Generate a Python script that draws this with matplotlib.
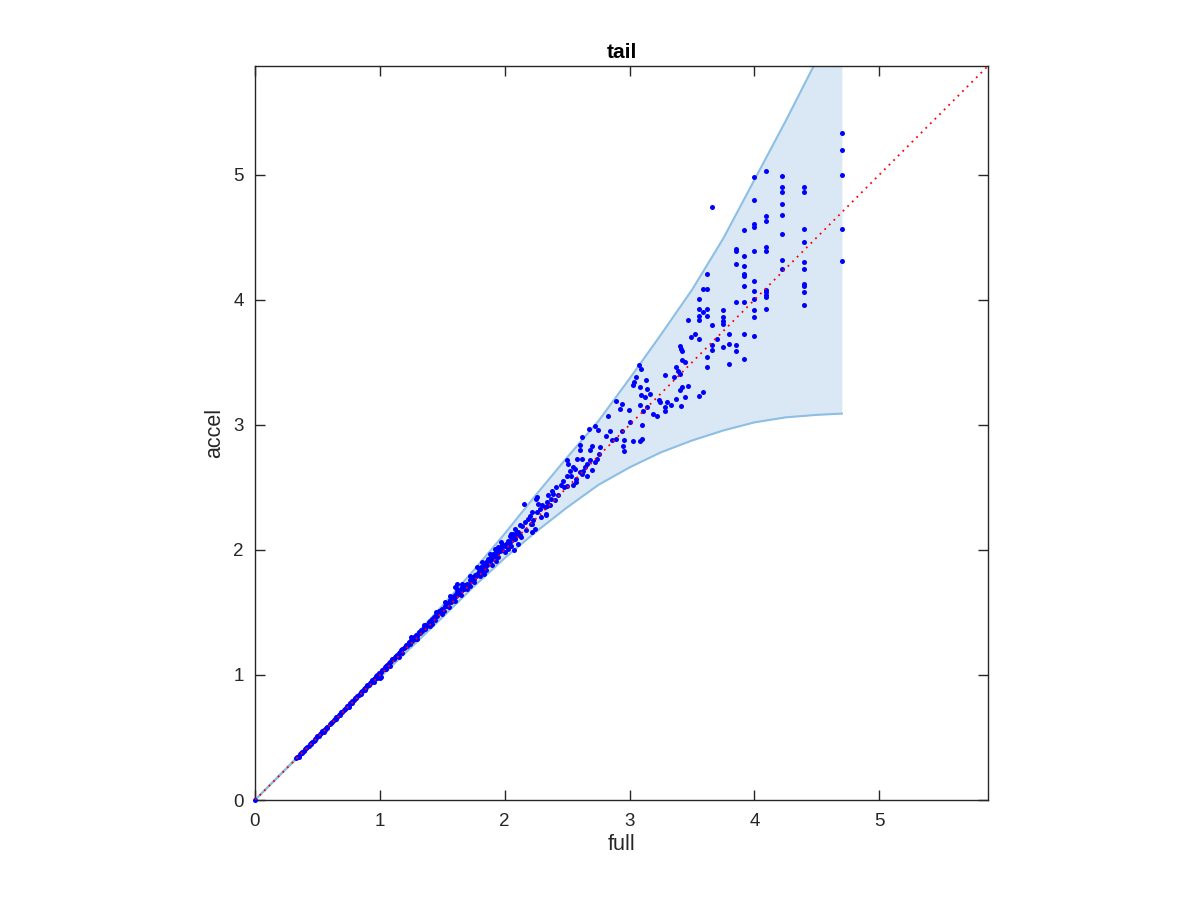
import matplotlib
matplotlib.use("Agg")
import matplotlib.pyplot as plt
import numpy as np

plt.rcParams['font.family'] = ['Liberation Sans', 'DejaVu Sans']

# ---- band boundaries ----
band_x = [0, 0.25, 0.5, 0.75, 1.0, 1.25, 1.5, 1.75, 2.0, 2.25, 2.5, 2.75, 3.0,
          3.25, 3.5, 3.75, 4.0, 4.25, 4.5, 4.7]
band_upper = [0, 0.253, 0.508, 0.765, 1.022, 1.283, 1.552, 1.835, 2.13, 2.44,
              2.74, 3.03, 3.37, 3.72, 4.08, 4.49, 4.96, 5.43, 5.92, 6.3]
band_lower = [0, 0.248, 0.495, 0.738, 0.98, 1.22, 1.46, 1.705, 1.935, 2.145,
              2.34, 2.52, 2.66, 2.78, 2.875, 2.955, 3.02, 3.06, 3.08, 3.09]

# ---- scatter points: dense near-diagonal part ----
dense_x = [0.0, 0.33, 0.34, 0.35, 0.36, 0.37, 0.38, 0.39, 0.40, 0.41, 0.42, 0.43, 0.44, 0.45,
           0.46, 0.47, 0.48, 0.49, 0.50, 0.51, 0.52, 0.53, 0.54, 0.55, 0.56, 0.57, 0.58,
           0.60, 0.61, 0.62, 0.63, 0.64, 0.65, 0.66, 0.67, 0.68, 0.69, 0.70, 0.71, 0.72,
           0.73, 0.74, 0.75, 0.76, 0.77, 0.78, 0.79, 0.80, 0.81, 0.82, 0.83, 0.84, 0.85,
           0.86, 0.87, 0.88, 0.89, 0.90, 0.91, 0.92, 0.93, 0.94, 0.95, 0.96, 0.97, 0.98,
           0.99, 1.00, 1.01, 1.02, 1.03, 1.04, 1.05, 1.06, 1.07, 1.08, 1.09, 1.10, 1.11,
           1.12, 1.13, 1.14, 1.15, 1.16, 1.17, 1.18, 1.19,
           0.35, 0.45, 0.55, 0.65, 0.75, 0.85, 0.95, 1.05, 1.15, 0.38, 0.48, 0.58, 0.68,
           0.78, 0.88, 0.98, 1.08, 1.18, 1.00, 1.01]
dense_y = [0.0, 0.335, 0.345, 0.352, 0.368, 0.372, 0.385, 0.392, 0.408, 0.412, 0.426, 0.431,
           0.447, 0.452, 0.465, 0.474, 0.487, 0.492, 0.508, 0.514, 0.526, 0.533, 0.548,
           0.556, 0.562, 0.578, 0.585, 0.607, 0.618, 0.625, 0.640, 0.645, 0.661, 0.665,
           0.682, 0.688, 0.702, 0.706, 0.722, 0.728, 0.737, 0.752, 0.757, 0.772, 0.776,
           0.795, 0.797, 0.815, 0.818, 0.833, 0.842, 0.848, 0.866, 0.868, 0.886, 0.892,
           0.902, 0.918, 0.921, 0.938, 0.944, 0.956, 0.968, 0.972, 0.991, 0.996, 1.012,
           1.018, 1.024, 1.043, 1.048, 1.062, 1.071, 1.078, 1.094, 1.103, 1.108, 1.128,
           1.131, 1.146, 1.152, 1.161, 1.178, 1.184, 1.196, 1.207, 1.215,
           0.345, 0.445, 0.547, 0.648, 0.746, 0.846, 0.945, 1.046, 1.144, 0.376, 0.478,
           0.576, 0.677, 0.776, 0.876, 0.978, 1.075, 1.172, 0.972, 0.98]

mid_x = [1.20, 1.21, 1.22, 1.23, 1.24, 1.25, 1.26, 1.27, 1.28, 1.29, 1.30, 1.31, 1.32, 1.33,
         1.34, 1.35, 1.36, 1.37, 1.38, 1.39, 1.40, 1.41, 1.42, 1.43, 1.44, 1.45, 1.46, 1.47,
         1.48, 1.49, 1.50, 1.51, 1.52, 1.53, 1.54, 1.55, 1.56, 1.57, 1.58, 1.59, 1.60, 1.61,
         1.62, 1.63, 1.64, 1.65, 1.66, 1.67, 1.68, 1.69, 1.70, 1.71, 1.72, 1.73, 1.74, 1.75,
         1.76, 1.77, 1.78, 1.79, 1.80, 1.81, 1.82, 1.83, 1.84, 1.85, 1.86, 1.87, 1.88, 1.89,
         1.90, 1.91, 1.92, 1.93, 1.94, 1.95, 1.96, 1.97, 1.98, 1.99, 2.00, 2.01, 2.02, 2.03,
         2.04, 2.05, 2.06, 2.07, 2.08, 2.09, 2.10, 2.11, 2.12,
         1.616, 1.60, 1.30, 1.40, 1.50, 1.60, 1.70, 1.80, 1.90, 2.00, 2.05, 1.75, 1.85, 1.95,
         2.065, 2.10, 2.083, 2.11, 2.04, 2.02, 1.98, 1.95, 2.075,
         1.52, 1.56, 1.62, 1.66, 1.72, 1.78, 1.82, 1.88, 1.92, 1.97, 1.45, 1.35, 1.25, 1.42,
         1.55, 1.65, 1.72, 1.83, 1.93, 2.03]
mid_y = [1.22, 1.24, 1.235, 1.26, 1.25, 1.28, 1.27, 1.30, 1.29, 1.32, 1.31, 1.34, 1.335, 1.36,
         1.35, 1.38, 1.37, 1.40, 1.39, 1.42, 1.43, 1.42, 1.45, 1.46, 1.44, 1.48, 1.47, 1.51,
         1.50, 1.52, 1.53, 1.51, 1.55, 1.57, 1.55, 1.58, 1.60, 1.58, 1.62, 1.60, 1.64, 1.63,
         1.66, 1.65, 1.68, 1.67, 1.70, 1.69, 1.72, 1.71, 1.73, 1.72, 1.76, 1.75, 1.78, 1.77,
         1.80, 1.79, 1.81, 1.83, 1.82, 1.86, 1.84, 1.87, 1.85, 1.90, 1.88, 1.93, 1.91, 1.95,
         1.93, 1.97, 1.95, 1.99, 1.97, 2.01, 1.99, 2.02, 2.00, 2.04, 2.03, 2.05, 2.04, 2.07,
         2.06, 2.10, 2.08, 2.12, 2.10, 2.13, 2.12, 2.14, 2.12,
         1.73, 1.70, 1.29, 1.39, 1.49, 1.59, 1.69, 1.79, 1.88, 1.98, 2.03, 1.74, 1.84, 1.94,
         2.13, 2.14, 2.09, 2.05, 2.11, 2.03, 2.04, 2.02, 2.00,
         1.58, 1.63, 1.69, 1.73, 1.79, 1.86, 1.90, 1.97, 2.01, 2.06, 1.50, 1.40, 1.30, 1.41,
         1.54, 1.64, 1.71, 1.81, 1.91, 2.01]

# ---- spread part 2.1 .. 3.0 ----
spread_x = [2.893, 2.94, 2.925, 2.997, 2.826, 2.676, 2.724, 2.75, 2.84, 2.81, 2.89, 2.86,
            2.94, 2.957, 2.946, 2.957, 2.62, 2.60, 2.70, 2.76, 2.68, 2.60, 2.755, 2.50,
            2.51, 2.58, 2.62, 2.55, 2.53, 2.495, 2.60, 2.63, 2.66, 2.72, 2.736, 2.41, 2.476,
            2.495, 2.545, 2.57, 2.35, 2.39, 2.37, 2.34, 2.26, 2.27, 2.25, 2.158, 2.32, 2.34,
            2.36, 2.33, 2.33, 2.217, 2.23, 2.21, 2.12, 2.24, 2.217, 2.17,
            2.28, 2.30, 2.38, 2.43, 2.45, 2.47, 2.40, 2.29, 2.19, 2.14, 2.16, 2.20, 2.05,
            2.08, 2.13, 2.22, 2.26, 2.52, 2.56, 2.64, 2.68, 2.57, 2.62, 2.70, 2.66]
spread_y = [3.19, 3.17, 3.13, 3.12, 3.07, 2.97, 2.99, 2.96, 2.95, 2.91, 2.89, 2.88,
            2.95, 2.88, 2.83, 2.79, 2.90, 2.84, 2.83, 2.82, 2.80, 2.80, 2.77, 2.72,
            2.69, 2.73, 2.73, 2.66, 2.59, 2.59, 2.62, 2.63, 2.59, 2.70, 2.73, 2.50, 2.50,
            2.51, 2.52, 2.54, 2.44, 2.45, 2.41, 2.38, 2.42, 2.37, 2.41, 2.37, 2.34, 2.35,
            2.36, 2.29, 2.28, 2.30, 2.24, 2.21, 2.20, 2.17, 2.14, 2.16,
            2.33, 2.36, 2.47, 2.44, 2.52, 2.55, 2.40, 2.26, 2.25, 2.19, 2.22, 2.27, 2.13,
            2.17, 2.10, 2.21, 2.30, 2.63, 2.65, 2.66, 2.72, 2.57, 2.61, 2.64, 2.69]

# ---- spread part 3.0 .. 3.5 ----
upper_x = [3.49, 3.40, 3.41, 3.42, 3.42, 3.44, 3.075, 3.09, 3.373, 3.39, 3.40, 3.28, 3.355,
           3.053, 3.133, 3.037, 3.031, 3.085, 3.143, 3.165, 3.093, 3.127, 3.40, 3.42, 3.467,
           3.44, 3.373, 3.235, 3.415, 3.333, 3.30, 3.283, 3.28, 3.245, 3.19, 3.22, 3.085,
           3.143, 3.11, 3.10, 3.0, 3.026, 3.085, 3.10]
upper_y = [3.70, 3.63, 3.61, 3.59, 3.52, 3.50, 3.48, 3.45, 3.46, 3.43, 3.41, 3.40, 3.38,
           3.38, 3.36, 3.34, 3.32, 3.30, 3.29, 3.25, 3.24, 3.22, 3.28, 3.30, 3.31,
           3.22, 3.21, 3.20, 3.15, 3.16, 3.18, 3.14, 3.11, 3.18, 3.09, 3.07, 3.16,
           3.14, 3.11, 3.00, 3.02, 2.87, 2.87, 2.89]

# ---- top part 3.5 .. 4.7 ----
top_x = [3.52, 3.553, 3.553, 3.553, 3.553, 3.553, 3.553, 3.585, 3.585, 3.585, 3.617, 3.617,
         3.617, 3.617, 3.617, 3.617, 3.656, 3.656, 3.656, 3.656, 3.696, 3.467,
         3.745, 3.745, 3.745, 3.745, 3.745, 3.795, 3.795, 3.795, 3.852, 3.852, 3.852,
         3.852, 3.852, 3.852, 3.92, 3.92, 3.92, 3.92, 3.92, 3.92, 3.92, 3.92, 3.92,
         4.0, 4.0, 4.0, 4.0, 4.0, 4.0, 4.0, 4.0, 4.0, 4.0, 4.0,
         4.095, 4.095, 4.095, 4.095, 4.095, 4.095, 4.095, 4.095, 4.095, 4.095,
         4.22, 4.22, 4.22, 4.22, 4.22, 4.22, 4.22, 4.22,
         4.397, 4.397, 4.397, 4.397, 4.397, 4.397, 4.397, 4.397, 4.397, 4.397,
         4.698, 4.698, 4.698, 4.698, 4.698]
top_y = [3.73, 3.69, 4.01, 3.93, 3.87, 3.84, 3.23, 4.09, 3.90, 3.26, 4.21, 4.09,
         3.93, 3.87, 3.54, 3.46, 4.74, 3.80, 3.64, 3.60, 3.69, 3.84,
         3.92, 3.86, 3.83, 3.81, 3.62, 3.73, 3.65, 3.49, 4.41, 4.39, 4.29,
         3.98, 3.64, 3.59, 4.56, 4.35, 4.27, 4.21, 4.19, 4.11, 3.98, 3.73, 3.53,
         4.98, 4.80, 4.61, 4.58, 4.39, 4.15, 4.07, 4.01, 3.92, 3.86, 3.71,
         5.03, 4.67, 4.63, 4.42, 4.39, 4.08, 4.06, 4.04, 4.02, 3.93,
         4.99, 4.90, 4.86, 4.77, 4.68, 4.53, 4.32, 4.25,
         4.90, 4.86, 4.57, 4.46, 4.30, 4.25, 4.13, 4.11, 4.06, 3.96,
         5.33, 5.20, 5.00, 4.57, 4.31]

lim = 5.87
diag = [0, lim]

fig = plt.figure(figsize=(12, 9), dpi=100)
ax = fig.add_axes([0.2125, 0.1111, 0.6108, 0.8156])

fill_c = (0.851, 0.910, 0.957)
edge_c = (0.55, 0.75, 0.89)
ax.fill_between(band_x, band_lower, band_upper, color=fill_c, linewidth=0, zorder=1)
ax.plot(band_x, band_upper, color=edge_c, lw=1.5, zorder=2)
ax.plot(band_x, band_lower, color=edge_c, lw=1.5, zorder=2)

px = dense_x + mid_x + spread_x + upper_x + top_x
py = dense_y + mid_y + spread_y + upper_y + top_y
ax.plot(px, py, linestyle='none', marker='o', markersize=3.6, color=(0, 0, 1),
        markeredgewidth=0, zorder=5, clip_on=False)

ax.plot(diag, diag, color=(1, 0, 0), lw=1.3, linestyle=(0, (1, 2.6)), zorder=6)

ax.set_xlim(0, lim)
ax.set_ylim(0, lim)
ax.set_xticks([0, 1, 2, 3, 4, 5])
ax.set_yticks([0, 1, 2, 3, 4, 5])
axc = (0.15, 0.15, 0.15)
ax.tick_params(direction='in', length=7, width=1, colors=axc, labelsize=13.5,
               top=True, right=True, pad=8)
ax.tick_params(axis='x', pad=9)
for s in ax.spines.values():
    s.set_color(axc)
    s.set_linewidth(1.0)
    s.set_zorder(4)
ax.set_xlabel('full', fontsize=15.5, color=axc, labelpad=3)
ax.set_ylabel('accel', fontsize=15.5, color=axc, labelpad=6)
ax.set_title('tail', fontsize=15, fontweight='bold', color='black', pad=6)

fig.savefig('out.png', dpi=100)
